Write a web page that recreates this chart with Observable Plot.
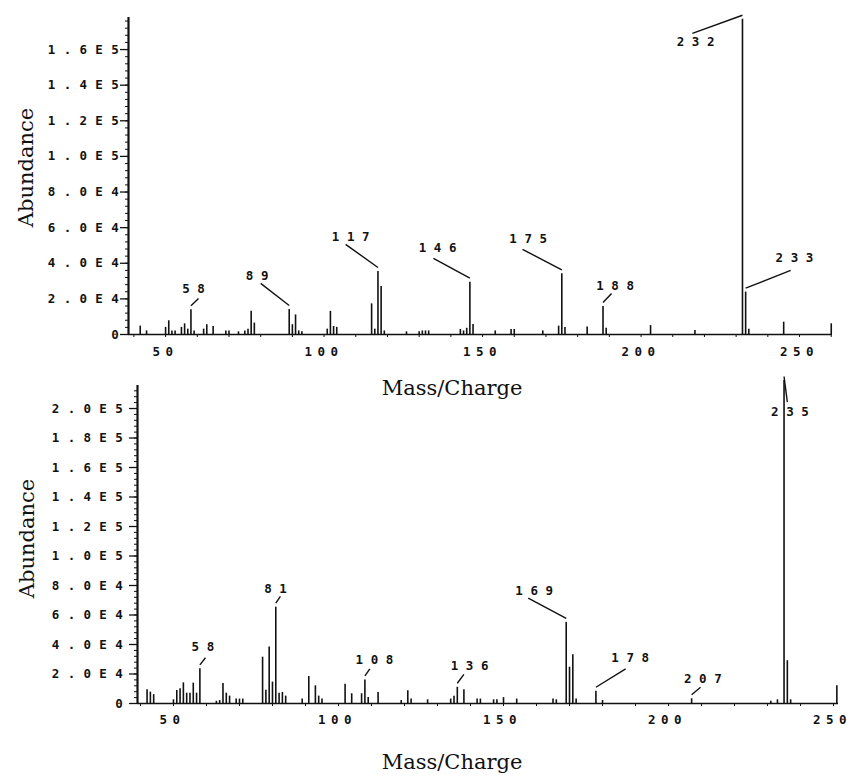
<!DOCTYPE html>
<html><head><meta charset="utf-8">
<script src="https://cdn.jsdelivr.net/npm/d3@7"></script>
<script src="https://cdn.jsdelivr.net/npm/@observablehq/plot@0.6"></script>
<style>
body{margin:0;background:#fff;}
#wrap{position:relative;width:853px;height:777px;background:#fff;}
#top{position:absolute;left:0;top:0;}
#bot{position:absolute;left:0;top:375px;}
g[aria-label="y-axis tick label"]{letter-spacing:8.3px;}
g[aria-label="x-axis tick label"]{letter-spacing:5.5px;}
g[aria-label="text"][font-size="12.5"]{letter-spacing:7.6px;}
</style></head><body><div id="wrap"><div id="top"></div><div id="bot"></div></div>
<script>
// ---------- Top spectrum ----------
const topMz = [42,44,50,51,52,53,55,56,57,58,59,62,63,65,69,70,73,75,76,77,78,89,90,91,92,93,101,102,103,104,115,116,117,118,119,126,130,131,132,133,143,144,145,146,147,154,159,160,169,174,175,176,183,188,189,203,217,232,233,234,245,260];
const topAb = [4700,2000,4000,7700,2000,2000,4000,6000,3000,13900,2000,3000,5500,4500,2000,2000,1500,2000,3000,13000,6400,14000,5500,11000,2000,1500,3000,13000,4500,4000,17200,3000,35400,27000,2000,1500,1500,2000,2000,2000,2800,2000,3500,29400,5600,2000,2800,2800,2000,4700,34100,4000,4200,15700,3500,5000,2200,177000,23800,3000,6900,6000];
const topLabelMz = [58,89,117,146,175,188,232,233];
const topLeaderMz = [60.4,80.0,106.8,134.5,162.6,190.7,216.2,247.2];
const topLeaderAb = [20200,28700,50600,42700,47800,23000,169100,36000];
const topTextMz = [58.8,78.9,108.4,135.8,164.4,191.8,217.2,248.4];
const topTextAb = [25300,33100,54500,48300,53400,27500,164000,42700];
const topXDomain = [38.3, 260.4];
const topYMax = 178000;
const topYTicks = [0,20000,40000,60000,80000,100000,120000,140000,160000];

// ---------- Bottom spectrum ----------
const botMz = [42,43,44,50,51,52,53,54,55,56,57,58,63,64,65,66,67,69,70,71,77,78,79,80,81,82,83,84,89,91,93,94,95,102,104,107,108,109,112,119,121,122,127,134,135,136,138,142,143,147,148,150,154,165,166,169,170,171,172,178,180,207,231,233,235,236,237,251];
const botAb = [9300,7700,6000,2500,8800,10000,14000,7000,7000,13800,7000,23500,1500,2000,13500,7000,5000,3000,3000,3000,31400,9000,38300,14500,65300,7000,7500,5000,3000,18300,12000,5000,3000,13000,6600,6600,16000,4000,7500,2000,8600,3000,2500,3000,5000,11000,9300,3000,3000,2500,2500,4000,3000,3000,2500,55000,24600,33000,3000,8300,2000,3200,1500,2500,219000,29000,2500,12000];
const botLabelMz = [58,81,108,136,169,178,207,235];
const botLeaderMz = [59.7,82.4,109.5,138.0,157.5,187.0,209.7,236.0];
const botLeaderAb = [31000,72700,23500,19700,71400,23500,11000,204300];
const botTextMz = [58.9,80.9,110.9,139.7,159.3,188.4,210.4,236.8];
const botTextAb = [38200,77800,29600,25100,76600,31000,16700,197500];
const botXDomain = [39.1, 251.5];
const botYMax = 215600;
const botYTicks = [0,20000,40000,60000,80000,100000,120000,140000,160000,180000,200000];

const xTickValues = [50,100,150,200,250];
const xTitle = "Mass/Charge";
const yTitle = "Abundance";

const ink = "#111";
function fmt(v){
  if (v === 0) return "0";
  if (v >= 1e5) return (v/1e5).toFixed(1) + "E5";
  return (v/1e4).toFixed(1) + "E4";
}

function spectrum(c){
  const peaks = c.mz.map((m,i)=>({mz:m, ab:c.ab[i]}));
  const abOf = new Map(peaks.map(d=>[d.mz,d.ab]));
  const gap = c.yMax * 4 / (c.height - c.marginTop - c.marginBottom);
  const labels = c.labMz.map((m,i)=>({mz:m, ab:abOf.get(m)+gap, fx:c.leadMz[i], fy:c.leadAb[i], tx:c.textMz[i], ty:c.textAb[i], text:String(m)}));
  return Plot.plot({
    width: 853, height: c.height,
    marginLeft: c.marginLeft, marginRight: c.marginRight, marginTop: c.marginTop, marginBottom: c.marginBottom,
    style: {background:"transparent", fontFamily:"'DejaVu Sans Mono', monospace", fontSize:"12.5px", color:ink, overflow:"visible"},
    x: {domain: c.xDomain},
    y: {domain: [0, c.yMax]},
    marks: [
      Plot.axisY({ticks: d3.range(0, c.yMax, 4000), tickSize: 3, tickFormat: () => "", stroke: ink}),
      Plot.axisY({ticks: c.yTicks, tickSize: 8, tickFormat: () => "", stroke: ink, strokeWidth: 1.3}),
      Plot.axisY({ticks: c.yTicks, tickSize: 0, tickPadding: c.yPad, tickFormat: fmt, fontWeight: "bold", fill: ink}),
      Plot.axisX({ticks: d3.range(40, c.xDomain[1], 10), tickSize: 3, tickFormat: () => "", stroke: ink}),
      Plot.axisX({ticks: xTickValues, tickSize: 0, tickPadding: c.xPad, dx: c.xDx, fontWeight: "bold", fill: ink}),
      Plot.ruleY([0], {stroke: ink, strokeWidth: 1.6}),
      Plot.ruleX([c.xDomain[0]], {y1: 0, y2: c.yMax, stroke: ink, strokeWidth: 2.2}),
      Plot.ruleX(peaks, {x: "mz", y1: 0, y2: "ab", stroke: ink, strokeWidth: 1.6}),
      Plot.link(labels, {x1: "mz", y1: "ab", x2: "fx", y2: "fy", stroke: ink, strokeWidth: 1.4}),
      Plot.text(labels, {x: "tx", y: "ty", text: "text", fontWeight: "bold", fontSize: 12.5, dx: 3.8, fill: ink}),
      Plot.text([xTitle], {frameAnchor: "bottom", textAnchor: "middle", lineAnchor: "bottom", dx: c.tDx, dy: c.tDy, fontFamily: "'DejaVu Serif', serif", fontSize: 21, fill: ink}),
      Plot.text([yTitle], {frameAnchor: "left", textAnchor: "middle", rotate: -90, lineAnchor: "bottom", dx: c.yTDx, dy: c.yTDy, fontFamily: "'DejaVu Serif', serif", fontSize: 21, fill: ink})
    ]
  });
}

document.getElementById("top").append(spectrum({
  mz: topMz, ab: topAb, labMz: topLabelMz, leadMz: topLeaderMz, leadAb: topLeaderAb, textMz: topTextMz, textAb: topTextAb,
  xDomain: topXDomain, yMax: topYMax, yTicks: topYTicks,
  height: 400, marginLeft: 128, marginRight: 21, marginTop: 17, marginBottom: 66,
  yPad: 1.5, xPad: 13, xDx: 0, tDx: -28.5, tDy: 60, yTDx: -96, yTDy: -8.5
}));
document.getElementById("bot").append(spectrum({
  mz: botMz, ab: botAb, labMz: botLabelMz, leadMz: botLeaderMz, leadAb: botLeaderAb, textMz: botTextMz, textAb: botTextAb,
  xDomain: botXDomain, yMax: botYMax, yTicks: botYTicks,
  height: 402, marginLeft: 137, marginRight: 15, marginTop: 10, marginBottom: 74,
  yPad: 6.5, xPad: 12, xDx: -1, tDx: -36, tDy: 65, yTDx: -104, yTDy: -6
}));
</script>
</body></html>
